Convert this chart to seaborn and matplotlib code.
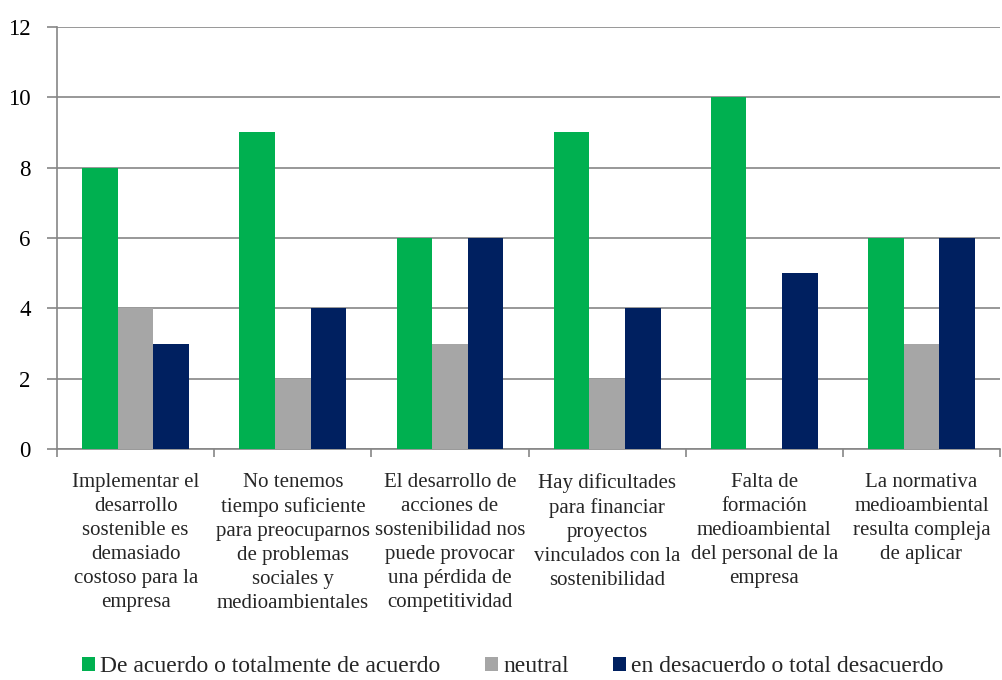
import matplotlib
matplotlib.use("Agg")
import matplotlib.pyplot as plt
from matplotlib.patches import Patch
from matplotlib.ticker import FixedLocator
import seaborn as sns
import pandas as pd

categories = [
    "Implementar el\ndesarrollo\nsostenible es\ndemasiado\ncostoso para la\nempresa",
    "No tenemos\ntiempo suficiente\npara preocuparnos\nde problemas\nsociales y\nmedioambientales",
    "El desarrollo de\nacciones de\nsostenibilidad nos\npuede provocar\nuna pérdida de\ncompetitividad",
    "Hay dificultades\npara financiar\nproyectos\nvinculados con la\nsostenibilidad",
    "Falta de\nformación\nmedioambiental\ndel personal de la\nempresa",
    "La normativa\nmedioambiental\nresulta compleja\nde aplicar",
]
series_names = [
    "De acuerdo o totalmente de acuerdo",
    "neutral",
    "en desacuerdo o total desacuerdo",
]
acuerdo = [8, 9, 6, 9, 10, 6]
neutral = [4, 2, 3, 2, 0, 3]
desacuerdo = [3, 4, 6, 4, 5, 6]
colors = ["#00B050", "#A6A6A6", "#002060"]

rows = []
for name, vals in zip(series_names, [acuerdo, neutral, desacuerdo]):
    for cat, v in zip(categories, vals):
        rows.append({"categoria": cat, "serie": name, "valor": v})
df = pd.DataFrame(rows)

sns.set_style("white")
plt.rcParams["font.family"] = ["Liberation Serif", "DejaVu Serif"]

fig = plt.figure(figsize=(10.02, 6.8), dpi=100)
ax = fig.add_axes([0.057, 0.3397, 0.941, 0.6206])

sns.barplot(data=df, x="categoria", y="valor", hue="serie",
            hue_order=series_names, palette=colors, width=0.68, gap=0,
            saturation=1, errorbar=None, ax=ax, legend=False, zorder=3)
for p in ax.patches:
    p.set_linewidth(0)

grid_c = "#868686"
ax.set_ylim(0, 12)
ax.set_xlim(-0.5, 5.5)
ax.set_yticks(range(0, 13, 2))
ax.yaxis.grid(True, color=grid_c, linewidth=1.2, zorder=0)
ax.set_axisbelow(True)
for s in ["top", "right"]:
    ax.spines[s].set_visible(False)
for s in ["left", "bottom"]:
    ax.spines[s].set_color(grid_c)
    ax.spines[s].set_linewidth(1.2)

ax.set_xlabel("")
ax.set_ylabel("")
ax.tick_params(axis="y", which="major", length=7, width=1.2, color=grid_c,
               direction="out", left=True, labelsize=16.5, pad=12, labelcolor="black")
ax.tick_params(axis="x", which="major", length=0, pad=17, labelsize=15)
ax.xaxis.set_minor_locator(FixedLocator([i - 0.5 for i in range(7)]))
ax.tick_params(axis="x", which="minor", length=6, width=1.2, color=grid_c,
               direction="out", bottom=True)
for lbl in ax.get_xticklabels():
    lbl.set_linespacing(1.36)
    lbl.set_multialignment("center")

handles = [Patch(facecolor=c, edgecolor="none") for c in colors]
fig.legend(handles, series_names, loc="center", bbox_to_anchor=(0.512, 0.0196),
           ncol=3, frameon=False, fontsize=17, handlelength=0.55,
           handleheight=0.55, handletextpad=0.2, columnspacing=1.9)

fig.savefig("out.png", dpi=100)
